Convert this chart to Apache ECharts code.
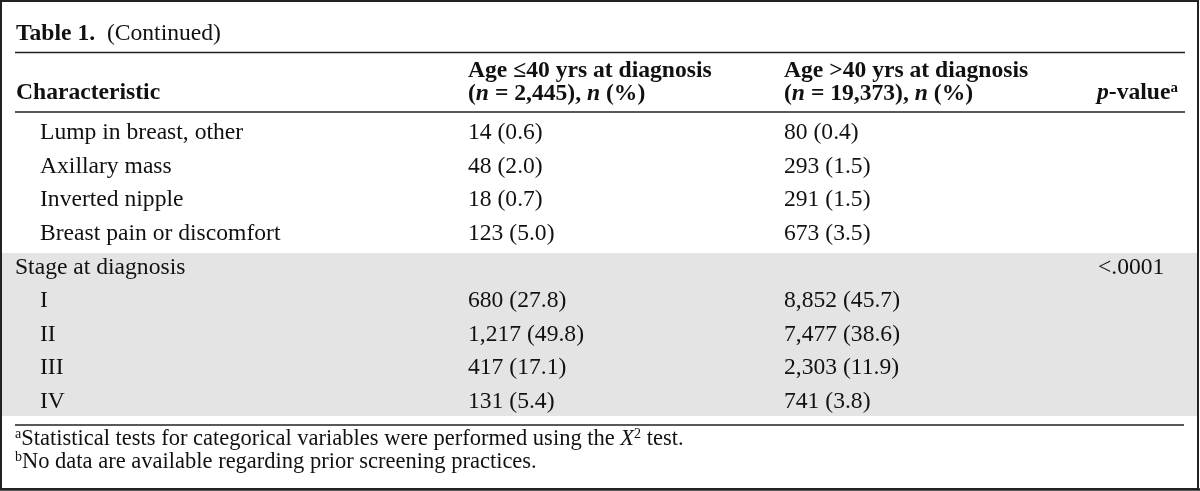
<!DOCTYPE html>
<html>
<head>
<meta charset="utf-8">
<title>Table 1 (Continued)</title>
<script src="https://cdn.jsdelivr.net/npm/echarts@6/dist/echarts.min.js"></script>
<style>
  html, body { margin: 0; padding: 0; background: #fff; }
  #chart { width: 1200px; height: 491px; }
</style>
</head>
<body>
<div id="chart"></div>
<script>
// rows of the table, top to bottom
const rowLabels = ['Lump in breast, other', 'Axillary mass', 'Inverted nipple', 'Breast pain or discomfort', 'Stage at diagnosis', 'I', 'II', 'III', 'IV']
const rowIndented = [true, true, true, true, false, true, true, true, true]
const shadedRows = [false, false, false, false, true, true, true, true, true]
// Age <=40 yrs at diagnosis (n = 2,445)
const youngCount = [14, 48, 18, 123, null, 680, 1217, 417, 131]
const youngPct = [0.6, 2.0, 0.7, 5.0, null, 27.8, 49.8, 17.1, 5.4]
// Age >40 yrs at diagnosis (n = 19,373)
const olderCount = [80, 293, 291, 673, null, 8852, 7477, 2303, 741]
const olderPct = [0.4, 1.5, 1.5, 3.5, null, 45.7, 38.6, 11.9, 3.8]
const pValues = ['', '', '', '', '<.0001', '', '', '', '']

const FONT = "'Liberation Serif', 'Times New Roman', serif"
const INK = '#111'
const SIZE = 23.6
const colX = [15, 468, 784, 1098] // left edge of each column
const indentX = 40
const bandPad = 14.3

function cell (count, pct) {
  if (count == null) return ''
  return count.toLocaleString('en-US') + ' (' + pct.toFixed(1) + ')'
}

const chart = echarts.init(document.getElementById('chart'))

const richBase = {
  r: { fontFamily: FONT, fontSize: SIZE, fill: INK },
  b: { fontFamily: FONT, fontSize: SIZE, fontWeight: 'bold', fill: INK },
  bi: { fontFamily: FONT, fontSize: SIZE, fontWeight: 'bold', fontStyle: 'italic', fill: INK },
  i: { fontFamily: FONT, fontSize: 22.5, fontStyle: 'italic', fill: INK },
  f: { fontFamily: FONT, fontSize: 22.5, fill: INK },
  sup: { fontFamily: FONT, fontSize: 14, fill: INK, verticalAlign: 'top' },
  bsup: { fontFamily: FONT, fontSize: 15, fontWeight: 'bold', fill: INK, verticalAlign: 'top' }
}

function label (x, y, text) {
  return {
    type: 'text',
    x: x,
    y: y,
    z: 10,
    style: { text: text, rich: richBase, verticalAlign: 'middle', align: 'left' }
  }
}

function rule (y, x1, x2, w) {
  return {
    type: 'line',
    z: 10,
    shape: { x1: x1, y1: y, x2: x2, y2: y },
    style: { stroke: '#222', lineWidth: w || 1.6 }
  }
}

const firstShaded = shadedRows.indexOf(true)
const lastShaded = shadedRows.lastIndexOf(true)

const option = {
  animation: false,
  grid: { left: 0, right: 0, top: 116.2, height: 302.4 },
  xAxis: { type: 'value', min: 0, max: 1200, show: false },
  yAxis: { type: 'category', data: rowLabels, inverse: true, show: false },
  series: [
    {
      // grey band behind the stage block, one rect from first to last shaded row
      type: 'custom',
      z: 1,
      silent: true,
      data: [[0, firstShaded, lastShaded]],
      renderItem (params, api) {
        const top = api.coord([0, api.value(1)])[1] - bandPad
        const bottom = api.coord([0, api.value(2)])[1] + bandPad
        return {
          type: 'rect',
          shape: { x: 0, y: top, width: api.coord([1198, 0])[0], height: bottom - top },
          style: { fill: '#e4e4e4' }
        }
      }
    },
    {
      // text of each row
      type: 'custom',
      z: 3,
      silent: true,
      data: rowLabels.map((r, i) => [0, i]),
      renderItem (params, api) {
        const i = params.dataIndex
        const y = api.coord([0, api.value(1)])[1]
        const texts = [
          [rowIndented[i] ? indentX : colX[0], rowLabels[i]],
          [colX[1], cell(youngCount[i], youngPct[i])],
          [colX[2], cell(olderCount[i], olderPct[i])],
          [colX[3], pValues[i]]
        ]
        return {
          type: 'group',
          children: texts.map(t => ({
            type: 'text',
            x: api.coord([t[0], 0])[0],
            y: y,
            style: { text: t[1], font: SIZE + 'px ' + FONT, fill: INK, align: 'left', verticalAlign: 'middle' }
          }))
        }
      }
    }
  ],
  graphic: [
    {
      type: 'rect',
      z: 20,
      shape: { x: 1, y: 1, width: 1197, height: 488 },
      style: { fill: 'none', stroke: '#222', lineWidth: 2 }
    },
    rule(489.5, 0, 1200, 2.5),
    label(16, 34, '{b|Table 1.}{r|  (Continued)}'),
    rule(52.5, 15, 1185),
    label(16, 93, '{b|Characteristic}'),
    label(colX[1], 71, '{b|Age \u226440 yrs at diagnosis}'),
    label(colX[1], 94, '{b|(}{bi|n}{b| = 2,445), }{bi|n}{b| (%)}'),
    label(colX[2], 71, '{b|Age >40 yrs at diagnosis}'),
    label(colX[2], 94, '{b|(}{bi|n}{b| = 19,373), }{bi|n}{b| (%)}'),
    label(1097, 93, '{bi|p}{b|-value}{bsup|a}'),
    rule(112, 15, 1185),
    rule(425, 15, 1184),
    label(15, 439, '{sup|a}{f|Statistical tests for categorical variables were performed using the }{i|X}{sup|2}{f| test.}'),
    label(15, 462, '{sup|b}{f|No data are available regarding prior screening practices.}')
  ]
}

chart.setOption(option)
</script>
</body>
</html>
